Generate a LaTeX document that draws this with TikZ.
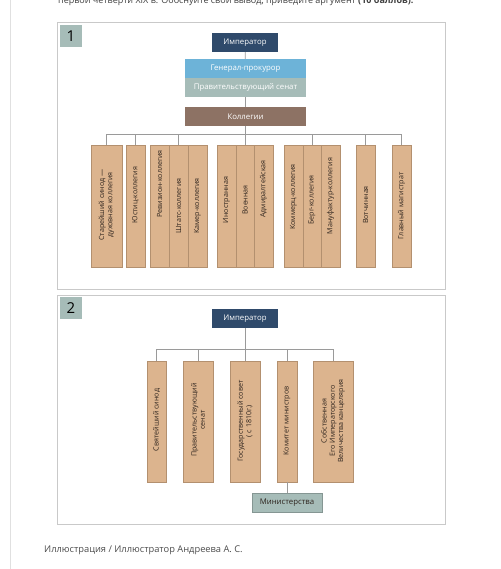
\documentclass[tikz,border=0pt]{standalone}
\usepackage{fontspec}
\setmainfont{Open Sans}
\definecolor{navy}{HTML}{2F4A6B}
\definecolor{lblue}{HTML}{6DB3D8}
\definecolor{gteal}{HTML}{A6BCB8}
\definecolor{brownk}{HTML}{8D7264}
\definecolor{tanf}{HTML}{DCB48E}
\definecolor{tanb}{HTML}{B3906F}
\definecolor{txt}{HTML}{2E241E}
\definecolor{conn}{HTML}{9A9A9A}
\definecolor{frame}{HTML}{C9C9C9}
\tikzset{
  hdr/.style={inner sep=0pt, minimum height=19pt, text=white, font=\fontsize{7.8}{9}\selectfont},
  col/.style={draw=tanb, line width=0.5pt, fill=tanf, minimum width=19pt, minimum height=122pt, inner sep=0pt},
  vt/.style={rotate=90, inner sep=0pt, text=txt, align=center, font=\fontsize{7.1}{8.3}\selectfont},
  link/.style={draw=conn, line width=0.7pt},
  panel/.style={draw=frame, line width=0.9pt, fill=white},
  numbox/.style={fill=gteal, minimum width=22pt, minimum height=22pt, inner sep=0pt, font=\fontsize{15}{15}\selectfont, text=black},
}
\begin{document}
\begin{tikzpicture}[x=1pt,y=-1pt]
\useasboundingbox (0,0) rectangle (500,569);
\fill[white] (0,0) rectangle (500,569);
\draw[draw=black!12, line width=0.8pt] (10,0) -- (10,569);
% top cut text
\node[anchor=base west, inner sep=0pt, text=black!75, font=\fontsize{9}{10}\selectfont] (toptext) at (58,3.5) {первой четверти XIX в. Обоснуйте свой вывод, приведите аргумент \textbf{(10 баллов).}};
% panels
\draw[panel] (57,22) rectangle (445,289);
\draw[panel] (57,295) rectangle (445,524);
\node[numbox] (n1) at (71,36) {1};
\node[numbox] (n2) at (71,308) {2};
% ---------- Panel 1
\node[hdr, fill=navy, minimum width=66pt] (imp1) at (245,42.5) {Император};
\node[hdr, fill=lblue, minimum width=121pt] (gen) at (245.5,68.5) {Генерал-прокурор};
\node[hdr, fill=gteal, minimum width=121pt] (sen) at (245.5,87.5) {Правительствующий сенат};
\node[hdr, fill=brownk, minimum width=121pt] (kol) at (245.5,116.5) {Коллегии};
\coordinate (bus1) at (245.5,134);
\draw[link] (imp1) -- (gen);
\draw[link] (sen) -- (kol);
% columns
\node[col, minimum width=31pt] (c1) at (106.5,206) {};
\node[col] (c2) at (135.5,206) {};
\node[col] (c3a) at (159.5,206) {};
\node[col] (c3b) at (178.5,206) {};
\node[col] (c3c) at (197.5,206) {};
\node[col] (c4a) at (226.5,206) {};
\node[col, minimum width=18pt] (c4b) at (245,206) {};
\node[col] (c4c) at (263.5,206) {};
\node[col] (c5a) at (293.5,206) {};
\node[col, minimum width=18pt] (c5b) at (312,206) {};
\node[col] (c5c) at (330.5,206) {};
\node[col] (c6) at (365.5,206) {};
\node[col] (c7) at (401.5,206) {};
\foreach \n in {c1,c2,c3b,c4b,c5b,c6,c7} \draw[link] (\n.north) |- (bus1);
\draw[link] (kol) -- (bus1);
\node[vt] (t1) at (106.5,205) {Старейший синод —\\духовная коллегия};
\node[vt] (t2) at (135.5,195) {Юстиц-коллегия};
\node[vt] (t3a) at (159.5,184) {Ревизион-коллегия};
\node[vt] (t3b) at (178.5,206) {Штатс-коллегия};
\node[vt] (t3c) at (197.5,206) {Камер-коллегия};
\node[vt] (t4a) at (226.5,200) {Иностранная};
\node[vt] (t4b) at (245,200) {Военная};
\node[vt] (t4c) at (263.5,189) {Адмиралтейская};
\node[vt] (t5a) at (293.5,197) {Коммерц-коллегия};
\node[vt] (t5b) at (312,200) {Берг-коллегия};
\node[vt] (t5c) at (330.5,196) {Мануфактур-коллегия};
\node[vt] (t6) at (365.5,205) {Вотчинная};
\node[vt] (t7) at (401.5,206) {Главный магистрат};
% ---------- Panel 2
\node[hdr, fill=navy, minimum width=66pt] (imp2) at (245,318.5) {Император};
\coordinate (bus2) at (245,349);
\draw[link] (imp2) -- (bus2);
\node[col, minimum height=121pt] (d1) at (156.5,421.5) {};
\node[col, minimum height=121pt, minimum width=30pt] (d2) at (198,421.5) {};
\node[col, minimum height=121pt, minimum width=30pt] (d3) at (245,421.5) {};
\node[col, minimum height=121pt, minimum width=20pt] (d4) at (287,421.5) {};
\node[col, minimum height=121pt, minimum width=40pt] (d5) at (333,421.5) {};
\foreach \n in {d1,d2,d3,d4,d5} \draw[link] (\n.north) |- (bus2);
\node[hdr, fill=gteal, minimum width=70pt, text=txt, draw=gteal!80!black, line width=0.3pt] (min) at (287,502.5) {Министерства};
\draw[link] (d4) -- (min);
\node[vt] (u1) at (156.5,420) {Святейший синод};
\node[vt] (u2) at (198,420) {Правительствующий\\сенат};
\node[vt] (u3) at (245,421) {Государственный совет\\( с 1810г.)};
\node[vt] (u4) at (287,421) {Комитет министров};
\node[vt] (u5) at (333,421) {Собственная\\Его Императорского\\Величества канцелярия};
% caption
\node[anchor=west, inner sep=0pt, text=black!70, font=\fontsize{9.3}{11}\selectfont] (cap) at (44,550) {Иллюстрация / Иллюстратор Андреева А. С.};
\end{tikzpicture}
\end{document}
